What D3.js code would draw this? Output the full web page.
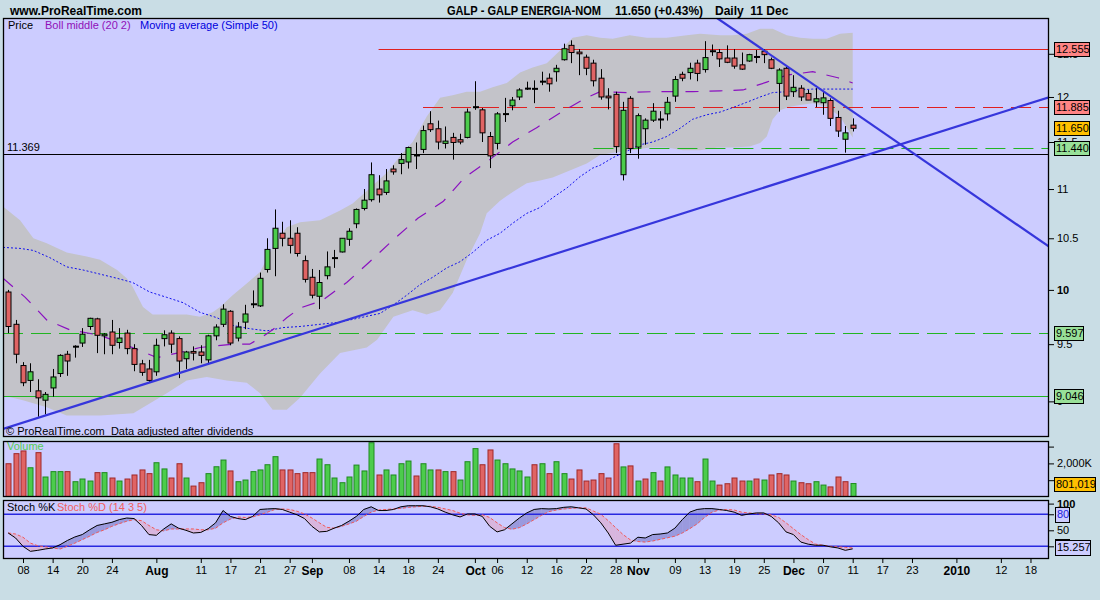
<!DOCTYPE html>
<html><head><meta charset="utf-8">
<script src="https://cdn.jsdelivr.net/npm/d3@7"></script>
<style>
body{margin:0;background:#c9dde5;}
svg{display:block;font-family:"Liberation Sans",Arial,sans-serif;}
</style></head><body>
<svg id="c" width="1100" height="600"></svg>
<script>
// ---------- DATA ----------
const openP = [9.98,9.68,9.31,9.18,9.09,9.01,9.115,9.24,9.41,9.475,9.51,9.66,9.73,9.575,9.61,9.515,9.60,9.46,9.325,9.28,
9.255,9.55,9.60,9.55,9.37,9.435,9.43,9.36,9.575,9.68,9.80,9.555,9.70,9.86,9.85,10.195,10.40,10.55,10.50,10.55,
10.28,10.12,9.94,10.135,10.30,10.365,10.49,10.645,10.80,10.89,11.00,10.965,11.21,11.27,11.285,11.36,11.42,11.70,11.645,11.485,
11.55,11.525,11.55,11.88,11.855,11.56,11.485,11.80,11.90,12.00,12.09,12.095,12.17,12.215,12.29,12.43,12.60,12.52,12.46,12.39,
12.215,12.01,12.03,11.15,11.985,11.445,11.645,11.74,11.75,11.81,12.01,12.26,12.28,12.39,12.315,12.525,12.515,12.45,12.45,12.37,
12.415,12.465,12.53,12.43,12.155,12.33,12.06,12.10,12.04,11.945,11.935,11.96,11.77,11.53,11.685];
const highP = [10.00,9.72,9.34,9.33,9.19,9.08,9.28,9.41,9.44,9.49,9.645,9.74,9.74,9.60,9.72,9.645,9.63,9.50,9.36,9.36,
9.55,9.625,9.625,9.57,9.44,9.48,9.49,9.585,9.68,9.865,9.81,9.70,9.86,9.995,10.165,10.50,10.79,10.665,10.68,10.61,
10.33,10.20,10.19,10.37,10.385,10.50,10.60,10.80,11.00,11.28,11.145,11.21,11.25,11.38,11.45,11.495,11.68,11.84,11.735,11.67,
11.60,11.59,11.87,12.18,11.875,11.61,11.83,11.99,12.00,12.10,12.175,12.19,12.29,12.27,12.37,12.62,12.66,12.555,12.49,12.43,
12.32,12.10,12.06,11.945,12.01,11.815,11.76,11.93,11.84,12.00,12.24,12.29,12.395,12.43,12.65,12.61,12.555,12.60,12.555,12.515,
12.50,12.545,12.555,12.455,12.33,12.345,12.25,12.135,12.08,12.10,12.07,11.985,11.845,11.675,11.76];
const lowP = [9.60,9.33,9.13,9.08,8.87,8.89,9.04,9.21,9.22,9.38,9.475,9.63,9.42,9.41,9.41,9.46,9.41,9.26,9.22,9.16,
9.22,9.48,9.42,9.20,9.28,9.355,9.33,9.33,9.535,9.655,9.49,9.525,9.635,9.83,9.84,10.165,10.13,10.42,10.35,10.32,
10.07,9.92,9.82,10.10,10.21,10.36,10.425,10.60,10.78,10.87,10.86,10.94,11.15,11.155,11.215,11.21,11.38,11.61,11.42,11.43,
11.31,11.475,11.54,11.855,11.50,11.22,11.42,11.72,11.85,11.965,12.08,11.93,12.135,12.06,12.175,12.42,12.39,12.25,12.25,12.12,
11.97,11.86,11.38,11.09,11.38,11.32,11.47,11.72,11.645,11.735,11.945,12.18,12.20,12.18,12.28,12.475,12.345,12.39,12.325,12.31,
12.405,12.39,12.39,12.32,11.835,11.965,12.00,11.955,11.965,11.885,11.80,11.675,11.555,11.385,11.615];
const closeP = [9.66,9.41,9.16,9.255,9.03,9.06,9.21,9.40,9.35,9.48,9.59,9.735,9.58,9.59,9.49,9.555,9.46,9.32,9.25,9.18,
9.49,9.585,9.50,9.35,9.43,9.42,9.40,9.575,9.655,9.82,9.51,9.655,9.775,9.87,10.11,10.39,10.60,10.50,10.43,10.35,
10.10,9.95,10.07,10.22,10.31,10.50,10.57,10.79,10.885,11.15,10.94,11.085,11.18,11.31,11.44,11.35,11.625,11.635,11.50,11.51,
11.495,11.50,11.83,11.89,11.60,11.35,11.81,11.815,11.965,12.08,12.10,12.09,12.18,12.15,12.33,12.56,12.515,12.50,12.33,12.185,
12.00,11.99,11.45,11.85,11.43,11.79,11.74,11.84,11.745,11.94,12.20,12.215,12.33,12.27,12.455,12.535,12.44,12.40,12.355,12.32,
12.49,12.46,12.49,12.33,12.31,12.01,12.11,12.00,11.965,11.98,11.99,11.76,11.62,11.60,11.65];
const volumeK = [1980,2580,2740,1740,2640,1190,1510,1510,1510,910,1070,950,1450,1450,1130,950,1070,1310,1610,1390,
2040,1670,1130,1980,1130,650,850,1390,1800,2200,1550,910,1010,1510,1610,1920,2400,1610,1610,1390,
1450,1450,2260,1920,1130,850,1190,1900,1550,3230,1310,1610,1310,1980,2140,1250,1980,1610,1610,1510,
1510,1010,2100,2880,1920,2800,2200,1980,1670,1550,1190,1920,1980,1390,2100,1390,1070,1610,950,1010,
1390,1130,3170,1790,1850,950,1070,1450,950,1790,1310,1130,1130,910,2260,950,710,790,1130,950,
950,1070,1010,1310,1390,1310,950,850,790,910,710,600,1190,910,801];
const stochK = [45,35.6,20,10.6,12.5,15,17,23,31,37.5,42,51,59,62,65,70,73,72,59,42,
40.6,52.5,62,54,50,45,46,53,64,87,76,72,70,76,89,90,90.6,89,84,79,
72,57.5,47,48,54,59,67,76,89,94,87,87,89,94,96,96,96,94,90,84,
79,75,80.6,80.6,76,57.5,47,51,62,73,82.5,89,90.6,90,90.6,93,94,92,90,79,
64,45,22,24,26,37,35.6,42,43,45,54,70,84,89,90.6,90.6,89,87,84,78,
80.6,82.5,82.5,76,64,47,42,28,24,22,22,19,17,12.5,15.257];
const stochD = [45,43,37,26,21,19,17,15,20,26,32.5,39,46,51,57.5,62.5,67,70,68,59,
51,49,52.5,52.5,52.5,52.5,51,51,54,64,71,75,74,75,79,84,89,90,89,85.6,
80.6,73,64,55.6,54,57.5,62,67,76,84,88,89,90,91,93,94,95,95,93,90,
87,82,79,78,79,74,64,55,52,55,62,70,78,85,88,90,91,92,92,86,
80,68,55,42,32,29,28,30,33,36,39,45,53,62,74,84,88,89,88,84,
82.5,81,80.6,79,74,64,53,42,32.5,24,22,20,19,18,17];
// indicator readings: [day index, price]
const bollUpper = [[-0.7,10.82],[1.6,10.68],[3.4,10.50],[5.2,10.45],[7.9,10.36],[10.6,10.32],[12.4,10.29],[14.7,10.19],[16,10.11],[16.8,10.03],[18.2,9.84],[19.5,9.77],[21.4,9.77],[24.1,9.77],[25.9,9.75],[27.6,9.79],[28.6,9.84],[30.3,9.95],[32.2,10.06],[34,10.17],[35.7,10.41],[37.6,10.61],[39.4,10.66],[42.1,10.68],[44.8,10.78],[46.5,10.85],[48.4,10.98],[51.1,11.17],[52.9,11.35],[54.6,11.50],[56.5,11.78],[58.3,11.99],[60,12.02],[61.9,12.06],[63.7,12.06],[65.4,12.11],[67.3,12.16],[69.1,12.28],[70.8,12.34],[72.7,12.39],[74.5,12.54],[76.2,12.69],[78.1,12.72],[79.9,12.69],[81.6,12.68],[83.9,12.72],[86.2,12.69],[88.9,12.69],[91.6,12.72],[93.4,12.74],[96.1,12.72],[97.8,12.72],[99.7,12.74],[101.5,12.80],[103.2,12.80],[105.1,12.72],[106.9,12.69],[108.6,12.68],[110.5,12.68],[112.3,12.74],[114,12.75]];
const bollLower = [[-0.7,9.05],[2,9.01],[5.2,8.95],[7.9,8.88],[12.4,8.88],[16.9,8.90],[21.4,9.07],[24.1,9.18],[26.8,9.21],[29.5,9.18],[32.2,9.16],[34,9.07],[35.7,8.93],[37.6,8.93],[39.4,9.03],[42.1,9.24],[44.8,9.42],[48.4,9.47],[49.8,9.54],[52,9.75],[54.6,9.81],[56.5,9.77],[58.3,9.81],[60,9.97],[61.9,10.29],[63.7,10.55],[64.6,10.75],[66.4,10.88],[68.1,10.97],[70,11.06],[71.8,11.09],[73.5,11.12],[75.4,11.18],[78.1,11.27],[79.9,11.36],[82.1,11.39],[84.3,11.41],[86.6,11.44],[88.9,11.44],[91.1,11.41],[93.4,11.41],[95.7,11.44],[97.8,11.44],[100.1,11.45],[101.5,11.49],[102.4,11.56],[103.2,11.75],[104.2,11.85],[105.5,11.89],[106.9,11.91],[108.6,11.93],[110.5,11.89],[112.3,11.78],[114,11.55]];
const bollMiddle = [[-0.7,10.11],[2.3,9.93],[5.2,9.72],[8.3,9.63],[12.4,9.58],[16,9.49],[20.1,9.38],[22.8,9.42],[25.9,9.47],[30.3,9.50],[32.6,9.50],[34.4,9.57],[35.7,9.63],[37.6,9.74],[39.4,9.83],[42.4,9.90],[45.7,10.07],[48.8,10.27],[52.2,10.50],[55.3,10.70],[58.7,10.87],[61.6,11.12],[65,11.31],[68.1,11.50],[71.4,11.66],[74.7,11.83],[77.8,11.98],[79.9,12.06],[83.5,12.05],[86.9,12.06],[92.4,12.06],[96.1,12.07],[99.2,12.08],[102.4,12.17],[105.1,12.25],[108.6,12.29],[112,12.22],[114,12.16]];
const sma50 = [[-0.7,10.41],[1.6,10.40],[3.4,10.38],[5.6,10.31],[7.9,10.22],[10.1,10.19],[12.4,10.15],[14.7,10.11],[16.8,10.07],[19.1,9.98],[21.4,9.93],[23.6,9.88],[25.9,9.79],[28.2,9.74],[30.3,9.67],[32.6,9.64],[34.9,9.62],[37.1,9.65],[39.4,9.66],[42.1,9.68],[44.8,9.70],[47.5,9.74],[50.2,9.78],[52,9.86],[53.8,9.95],[55.6,10.05],[57.3,10.12],[59.2,10.21],[61,10.27],[62.7,10.36],[64.6,10.48],[66.4,10.55],[68.1,10.65],[70,10.75],[71.8,10.81],[73.5,10.91],[75.4,11.01],[77.2,11.13],[78.9,11.22],[79.9,11.25],[81.6,11.33],[83.5,11.40],[85.3,11.47],[87,11.50],[88.9,11.56],[90.7,11.65],[92.4,11.75],[94.3,11.80],[96.1,11.83],[97.8,11.88],[99.7,11.94],[101.5,12.00],[103.2,12.05],[105.1,12.06],[106.9,12.08],[108.6,12.09],[110.5,12.09],[112.3,12.09],[114,12.09]];
const trendLines = [[[-0.7,8.768],[140.5,11.997]], [[95.68,12.93],[140.5,10.417]]];
const levelValues = [12.555, 11.885, 11.44, 11.369, 9.597, 9.046];
const levelStart = ["2009-09-14","2009-09-22","2009-10-23",null,null,null];
const levelStyle = ["redSolid","redDash","greenDash","black","greenDash","greenSolid"];
const priceTicks = [9,9.5,10,10.5,11,11.5,12,12.5];
const tickDates = ["2009-07-08","2009-07-14","2009-07-20","2009-07-24","2009-08-03","2009-08-11","2009-08-17","2009-08-21","2009-08-27","2009-09-01","2009-09-08","2009-09-14","2009-09-18","2009-09-24","2009-10-01","2009-10-06","2009-10-12","2009-10-16","2009-10-22","2009-10-28","2009-11-02","2009-11-09","2009-11-13","2009-11-19","2009-11-25","2009-12-01","2009-12-07","2009-12-11","2009-12-17","2009-12-23","2010-01-04","2010-01-12","2010-01-18"];
const tickLabels = ["08","14","20","24","Aug","11","17","21","27","Sep","08","14","18","24","Oct","06","12","16","22","28","Nov","09","13","19","25","Dec","07","11","17","23","2010","12","18"];

// ---------- trading calendar ----------
const days = [];
{ let d = new Date(Date.UTC(2009,6,6)); const end = Date.UTC(2010,0,22);
  const hol = ["2009-12-25","2010-01-01"];
  while (d.getTime() <= end) { const wd = d.getUTCDay(); const s = d.toISOString().slice(0,10);
    if (wd !== 0 && wd !== 6 && !hol.includes(s)) days.push(s); d = new Date(d.getTime()+864e5); } }
const dayIdx = new Map(days.map((s,i)=>[s,i]));

// ---------- layout ----------
const L = 3, R = 1049;
const P = {top:18, bottom:437}, V = {top:441, bottom:497}, S = {top:500, bottom:559};
const x = d3.scaleLinear().domain([-0.7,140.5]).range([L,R]);
const y = d3.scaleLog().domain([8.702,12.930]).range([P.bottom,P.top]);
const yv = d3.scaleLinear().domain([0,3333]).range([V.bottom,V.top]);
const ys = d3.scaleLinear().domain([0,100]).range([557,503.6]);

const svg = d3.select("#c");
svg.append("rect").attr("width",1100).attr("height",600).attr("fill","#c9dde5");
const defs = svg.append("defs");
[["cm",P],["cv",V],["cs",S]].forEach(([id,r])=>{
  defs.append("clipPath").attr("id",id).append("rect").attr("x",L).attr("y",r.top).attr("width",R-L).attr("height",r.bottom-r.top);
});
[P,V,S].forEach(r=>svg.append("rect").attr("x",L).attr("y",r.top).attr("width",R-L).attr("height",r.bottom-r.top).attr("fill","#ccccff"));

// ---------- header ----------
const hdr = svg.append("g").attr("font-weight","bold").attr("font-size",12).attr("fill","#000");
hdr.append("text").attr("x",10).attr("y",15).text("www.ProRealTime.com");
hdr.append("text").attr("x",447).attr("y",15).attr("textLength",154).attr("lengthAdjust","spacingAndGlyphs").text("GALP - GALP ENERGIA-NOM");
hdr.append("text").attr("x",615).attr("y",15).attr("textLength",88).attr("lengthAdjust","spacingAndGlyphs").text("11.650 (+0.43%)");
hdr.append("text").attr("x",715).attr("y",15).attr("xml:space","preserve").text("Daily  11 Dec");

// ---------- main panel ----------
const gm = svg.append("g").attr("clip-path","url(#cm)");
const pt = d => [x(d[0]), y(d[1])];
const poly = bollUpper.map(pt).concat(bollLower.slice().reverse().map(pt));
gm.append("path").attr("d", d3.line()(poly) + "Z").attr("fill","#c3c3c9");

levelValues.forEach((v,k)=>{
  const st = levelStyle[k];
  const x0 = levelStart[k] ? x(dayIdx.get(levelStart[k])) : L;
  const col = st.startsWith("red") ? "#e02020" : st.startsWith("green") ? "#22b522" : "#000";
  gm.append("line").attr("x1",x0).attr("x2",R).attr("y1",Math.round(y(v))+0.5).attr("y2",Math.round(y(v))+0.5)
    .attr("stroke",col).attr("stroke-width",1).attr("stroke-dasharray", st.endsWith("Dash") ? "20,8" : null);
});

gm.append("path").attr("d", d3.line()(sma50.map(pt))).attr("fill","none").attr("stroke","#1010ee").attr("stroke-width",1).attr("stroke-dasharray","2,2");
gm.append("path").attr("d", d3.line()(bollMiddle.map(pt))).attr("fill","none").attr("stroke","#8a10c0").attr("stroke-width",1.2).attr("stroke-dasharray","13,11");

// candles
const cg = gm.append("g");
openP.forEach((o,i)=>{
  const c = closeP[i], cx = Math.round(x(i));
  cg.append("line").attr("x1",cx+0.5).attr("x2",cx+0.5).attr("y1",y(highP[i])).attr("y2",y(lowP[i])).attr("stroke","#000").attr("stroke-width",1);
  const yt = y(Math.max(o,c)), yb = y(Math.min(o,c));
  const h = yb - yt;
  if (h < 1.6) {
    cg.append("rect").attr("x",cx-2).attr("y",(yt+yb)/2-1).attr("width",6).attr("height",2).attr("fill","#000");
  } else {
    cg.append("rect").attr("x",cx-2).attr("y",yt).attr("width",5).attr("height",h)
      .attr("fill", c>=o ? "#4ccc4c" : "#e06464").attr("stroke","#000").attr("stroke-width",1);
  }
});

trendLines.forEach(tl=>{
  gm.append("line").attr("x1",x(tl[0][0])).attr("y1",y(tl[0][1])).attr("x2",x(tl[1][0])).attr("y2",y(tl[1][1]))
    .attr("stroke","#3636dc").attr("stroke-width",2.2);
});

// legend / captions
svg.append("text").attr("x",8).attr("y",29).attr("font-size",11).attr("fill","#000").text("Price");
svg.append("text").attr("x",45).attr("y",29).attr("font-size",11).attr("fill","#9010b8").text("Boll middle (20 2)");
svg.append("text").attr("x",140).attr("y",29).attr("font-size",11).attr("fill","#0000dd").text("Moving average (Simple 50)");
svg.append("text").attr("x",7).attr("y",151).attr("font-size",11).attr("fill","#000").text("11.369");
svg.append("text").attr("x",6).attr("y",435).attr("font-size",11).attr("fill","#000").attr("xml:space","preserve").text("© ProRealTime.com  Data adjusted after dividends");

// price axis
const pa = svg.append("g").attr("transform",`translate(${R},0)`)
  .call(d3.axisRight(y).tickValues(priceTicks).tickSize(5).tickPadding(3).tickFormat(d=>String(d)));
pa.select(".domain").remove();
pa.selectAll("text").attr("font-size",11).attr("font-family","Liberation Sans, Arial, sans-serif").attr("fill","#000")
  .attr("font-weight",d=>d===10?"bold":null);
pa.selectAll("line").attr("stroke","#000");

// price boxes
const boxes = [[12.555,"#ff8484"],[11.885,"#ff8484"],[11.65,"#ffc000"],[11.44,"#98e098"],[9.597,"#98e098"],[9.046,"#98e098"]];
boxes.forEach(([v,f])=>{
  const cy = y(v), t = d3.format(".3f")(v);
  const w = t.length>5 ? 35 : 29;
  svg.append("rect").attr("x",1054.5).attr("y",Math.round(cy-7)+0.5).attr("width",w).attr("height",14).attr("fill",f).attr("stroke","#000");
  svg.append("text").attr("x",1056).attr("y",cy+4).attr("font-size",11).attr("fill","#000").text(t);
});

// ---------- volume ----------
const gv = svg.append("g").attr("clip-path","url(#cv)");
volumeK.forEach((v,i)=>{
  const up = i===0 ? closeP[0]>=openP[0] : closeP[i]>=closeP[i-1];
  const cx = Math.round(x(i));
  gv.append("rect").attr("x",cx-2).attr("y",yv(v)).attr("width",5).attr("height",yv(0)-yv(v))
    .attr("fill", up ? "#4ccc4c" : "#e06464").attr("stroke", up ? "#1e8a1e" : "#a02828").attr("stroke-width",1);
});
svg.append("text").attr("x",7).attr("y",450).attr("font-size",11).attr("fill","#55cc55").text("Volume");
const va = svg.append("g").attr("transform",`translate(${R},0)`)
  .call(d3.axisRight(yv).tickValues([1000,2000,3000]).tickSize(5).tickPadding(3).tickFormat(d=>d===2000?"2,000K":""));
va.select(".domain").remove();
va.selectAll("text").attr("font-size",11).attr("font-family","Liberation Sans, Arial, sans-serif").attr("fill","#000");
svg.append("rect").attr("x",1054.5).attr("y",Math.round(yv(801))-7+0.5).attr("width",41).attr("height",14).attr("fill","#ffc000").attr("stroke","#000");
svg.append("text").attr("x",1056).attr("y",yv(801)+4).attr("font-size",11).text("801,019");

// ---------- stochastic ----------
const gs = svg.append("g").attr("clip-path","url(#cs)");
const BLUE = "#9a9ade", PINK = "#d8b6de";
const fillPoly = (pts,col)=>gs.append("path").attr("d",d3.line()(pts)+"Z").attr("fill",col).attr("stroke",col).attr("stroke-width",0.4);
for (let i=0;i<stochK.length-1;i++){
  const ka=stochK[i], kb=stochK[i+1], da=stochD[i], db=stochD[i+1];
  const xa=x(i), xb=x(i+1), ea=ka-da, eb=kb-db;
  if (ea*eb>=0) {
    fillPoly([[xa,ys(ka)],[xb,ys(kb)],[xb,ys(db)],[xa,ys(da)]], (ea+eb)>=0?BLUE:PINK);
  } else {
    const t=ea/(ea-eb), xc=xa+t*(xb-xa), vc=ka+t*(kb-ka);
    fillPoly([[xa,ys(ka)],[xc,ys(vc)],[xa,ys(da)]], ea>0?BLUE:PINK);
    fillPoly([[xc,ys(vc)],[xb,ys(kb)],[xb,ys(db)]], eb>0?BLUE:PINK);
  }
}
[80,20].forEach(v=>gs.append("line").attr("x1",L).attr("x2",R).attr("y1",ys(v)).attr("y2",ys(v)).attr("stroke","#2828e0").attr("stroke-width",1.4));
gs.append("path").attr("d",d3.line()(stochD.map((v,i)=>[x(i),ys(v)]))).attr("fill","none").attr("stroke","#f05a5a").attr("stroke-width",1).attr("stroke-dasharray","3,2");
gs.append("path").attr("d",d3.line()(stochK.map((v,i)=>[x(i),ys(v)]))).attr("fill","none").attr("stroke","#000").attr("stroke-width",1);
svg.append("text").attr("x",7).attr("y",511).attr("font-size",11).attr("fill","#000").text("Stoch %K");
svg.append("text").attr("x",57).attr("y",511).attr("font-size",11).attr("fill","#f06060").text("Stoch %D (14 3 5)");
const sa = svg.append("g").attr("transform",`translate(${R},0)`)
  .call(d3.axisRight(ys).tickValues([100,80,50,20]).tickSize(5).tickPadding(3).tickFormat(d=>d===100||d===50?String(d):""));
sa.select(".domain").remove();
sa.selectAll("text").attr("font-size",11).attr("font-family","Liberation Sans, Arial, sans-serif").attr("fill","#000")
  .attr("font-weight",d=>d===100?"bold":null);
[[80,"80",14,"#2020dd"],[20,"20",14,"#000"],[15.257,"15.257",35,"#000"]].forEach(([v,t,w,c])=>{
  const cy = v===15.257 ? ys(v)-1.5 : ys(v);
  svg.append("rect").attr("x",1055.5).attr("y",Math.round(cy-7.5)+0.5).attr("width",w).attr("height",15).attr("fill","#ccccff").attr("stroke","#000");
  svg.append("text").attr("x",1057).attr("y",cy+4).attr("font-size",11).attr("fill",c).text(t);
});

// ---------- x axis ----------
const xa = svg.append("g").attr("transform",`translate(0,${S.bottom})`)
  .call(d3.axisBottom(x).tickValues(tickDates.map(d=>dayIdx.get(d))).tickSize(4).tickPadding(3).tickFormat((d,i)=>tickLabels[i]));
xa.select(".domain").remove();
xa.selectAll("line").attr("stroke","#000");
xa.selectAll("text").attr("font-family","Liberation Sans, Arial, sans-serif").attr("fill","#000")
  .attr("font-size",(d,i)=>tickLabels[i].length!==2?12:11)
  .attr("font-weight",(d,i)=>tickLabels[i].length!==2?"bold":null);

// panel borders
[P,V,S].forEach(r=>svg.append("rect").attr("x",L+0.5).attr("y",r.top+0.5).attr("width",R-L-1).attr("height",r.bottom-r.top-1).attr("fill","none").attr("stroke","#000").attr("stroke-width",1.3));
</script></body></html>
